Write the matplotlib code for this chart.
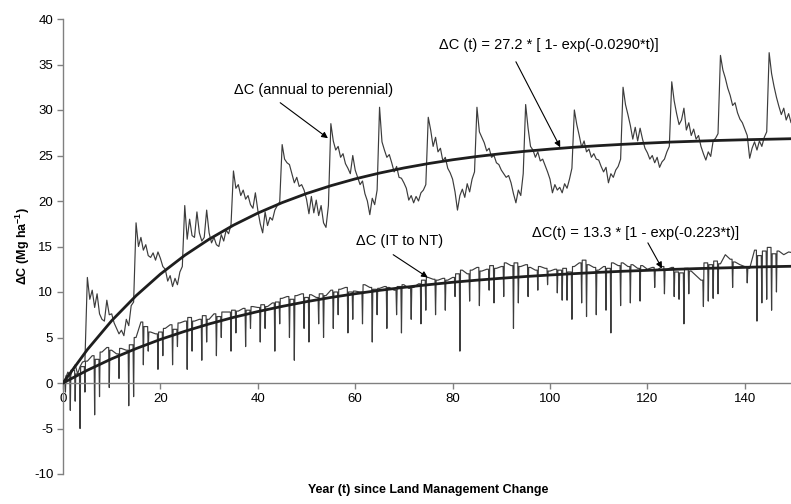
import matplotlib
matplotlib.use("Agg")
import matplotlib.pyplot as plt

plt.rcParams['font.family'] = ['Liberation Sans', 'DejaVu Sans']
plt.rcParams['mathtext.fontset'] = 'custom'
plt.rcParams['mathtext.rm'] = 'Liberation Sans'
plt.rcParams['mathtext.bf'] = 'Liberation Sans:bold'
plt.rcParams['mathtext.default'] = 'bf'
plt.rcParams['axes.unicode_minus'] = False

# ---------------- data ----------------
# Annual to perennial, sampled every half year from t = 0 to 150
a2p_step = 0.5
a2p_vals = [
    0.0, 0.5, 1.2, 0.8, 1.5, 2.0, 1.0, 1.8, 2.3, 2.4,
    11.6, 9.2, 10.2, 8.3, 9.8, 7.6, 7.0, 6.8, 9.1, 7.5, 7.6, 6.6, 6.0, 5.4, 5.8, 5.2, 7.0, 6.3, 8.5, 8.9,
    17.6, 15.0, 16.0, 14.6, 15.2, 14.0, 13.8, 14.3, 13.5, 14.4, 13.7, 12.8, 12.5, 11.2, 11.8, 10.6, 11.5, 10.8, 12.2, 12.8,
    19.5, 15.8, 18.0, 16.2, 16.0, 18.8, 16.5, 15.6, 16.0, 19.0, 16.5, 15.4, 16.0, 15.2, 15.0, 16.3, 15.6, 16.8, 16.4, 17.4,
    23.3, 21.4, 21.8, 20.6, 21.2, 20.2, 20.6, 19.6, 19.2, 20.9, 19.0, 17.5, 16.5, 18.8, 17.3, 18.2, 17.9, 19.0, 19.5, 19.9,
    26.2, 24.6, 24.2, 24.0, 23.0, 22.0, 22.6, 21.6, 21.8, 21.2, 20.2, 18.6, 20.5, 18.7, 20.1, 18.4, 19.5, 17.6, 17.1, 19.5,
    28.5, 26.6, 25.6, 26.0, 24.8, 25.2, 24.1, 23.6, 23.0, 25.0, 23.4, 22.6, 21.8, 22.2, 20.8, 20.0, 18.5, 20.3, 19.6, 21.2,
    30.3, 26.5, 25.6, 24.8, 25.1, 24.2, 23.2, 23.8, 22.6, 22.5, 22.0, 21.4, 20.1, 20.6, 19.8, 20.5, 20.0, 20.9, 21.2, 21.8,
    29.2, 27.8, 26.0, 27.0, 25.4, 25.8, 24.4, 24.8, 23.6, 23.1, 22.4, 21.0, 19.0, 20.6, 21.3, 20.4, 21.9, 21.0, 22.4, 23.2,
    30.3, 27.6, 27.0, 26.4, 25.5, 25.8, 24.8, 25.0, 24.2, 24.0, 23.4, 23.0, 22.6, 22.8, 22.0, 20.8, 19.8, 21.2, 20.6, 23.0,
    30.6, 28.0, 26.0, 25.6, 24.8, 25.4, 24.4, 24.6, 23.9, 23.2, 22.4, 20.9, 21.8, 21.2, 21.5, 20.9, 21.9, 21.4, 22.4, 23.6,
    30.0, 28.4, 27.2, 25.9, 26.6, 25.4, 25.7, 24.8, 25.2, 24.6, 24.5, 23.8, 23.2, 23.7, 22.0, 23.0, 22.6, 23.4, 23.8, 24.6,
    32.5, 30.6, 29.5, 28.3, 26.8, 28.1, 26.6, 28.0, 26.8, 25.8, 25.3, 24.6, 25.0, 24.2, 24.8, 23.7, 24.3, 24.6, 25.4, 26.0,
    33.1, 31.0, 29.6, 28.4, 28.9, 30.2, 27.8, 28.6, 27.2, 27.9, 26.8, 27.2, 26.0, 25.2, 24.5, 25.4, 24.9, 26.6, 26.9, 27.4,
    36.0, 34.4, 33.5, 32.4, 31.6, 30.5, 30.8, 29.7, 29.0, 28.6, 27.9, 27.2, 24.7, 25.8, 26.5, 25.6, 26.6, 26.0, 27.0, 27.6,
    36.3, 34.0, 32.6, 31.4, 30.4, 29.5, 30.2, 28.9, 29.6, 28.6, 29.3,
]

# IT to NT: annual base values (t = 0..150) plus short downward spikes
i2n_base = [
    0.0, 0.8, 1.4, 1.0, 1.8, 2.4, 3.0, 2.6, 3.4, 3.9,
    3.6, 3.2, 3.8, 3.6, 4.2, 5.0, 6.7, 6.2, 5.6, 5.4,
    5.6, 6.0, 6.4, 5.9, 6.6, 6.8, 7.2, 6.8, 7.0, 7.4,
    7.0, 7.6, 7.3, 7.8, 7.8, 8.0, 7.9, 8.2, 8.0, 8.4,
    8.3, 8.6, 8.4, 8.8, 8.9, 9.3, 9.5, 9.2, 9.6, 9.8,
    9.4, 9.7, 9.4, 9.8, 9.6, 10.2, 10.0, 10.3, 10.5, 10.0,
    10.1, 10.0, 10.8, 10.5, 10.3, 10.4, 10.6, 10.5, 10.2, 10.6,
    10.8, 10.4, 10.5, 10.9, 11.3, 11.6, 11.4, 11.3, 11.5, 11.3,
    11.6, 12.0, 12.4, 12.0, 12.4, 12.7, 12.3, 12.5, 12.9, 12.6,
    12.8, 13.2, 12.9, 13.2, 12.8, 13.0, 12.7, 12.4, 12.8, 12.6,
    12.3, 12.5, 12.4, 12.6, 12.2, 12.8, 13.2, 13.5, 13.0, 12.7,
    12.4, 12.8, 12.6, 13.2, 12.9, 13.2, 12.8, 13.0, 12.6, 12.9,
    12.5, 12.7, 12.4, 12.8, 12.5, 12.7, 12.2, 12.1, 12.6, 12.3,
    11.8, 11.3, 13.2, 13.0, 13.4, 13.1, 14.1, 13.6, 13.3, 13.0,
    12.8, 12.6, 14.6, 14.0, 14.5, 14.9, 14.2, 14.5, 14.1, 14.4,
    14.3,
]
i2n_dip_t = [
    0.5, 1.5, 2.5, 3.5, 4.5, 6.5, 7.5, 9.5, 11.5, 13.5, 14.5,
    16.5, 17.5, 19.5, 20.5, 22.5, 23.5, 25.5, 26.5, 28.5, 29.5,
    31.5, 32.5, 34.5, 35.5, 37.5, 38.5, 40.5, 41.5, 43.5, 44.5,
    46.5, 47.5, 49.5, 50.5, 52.5, 53.5, 55.5, 56.5, 58.5, 59.5,
    61.5, 63.5, 64.5, 66.5, 68.5, 69.5, 71.5, 73.5, 74.5, 76.5,
    78.5, 80.5, 81.5, 83.5, 85.5, 87.5, 88.5, 90.5, 92.5, 93.5,
    95.5, 97.5, 99.5, 101.5, 102.5, 103.5, 104.5, 106.5, 107.5, 109.5,
    111.5, 112.5, 114.5, 116.5, 118.5, 121.5, 123.5, 125.5, 126.5, 127.5,
    128.5, 131.5, 132.5, 133.5, 134.5, 137.5, 140.5, 142.5, 143.5, 144.5,
    145.5, 146.5,
]
i2n_dip_v = [
    -1.0, -3.0, -2.0, -5.0, -1.0, -3.5, -1.5, -0.5, 0.5, -2.5, -1.5,
    2.0, 3.5, 1.5, 3.0, 2.0, 4.0, 1.5, 3.5, 2.5, 4.5,
    3.0, 5.0, 3.5, 5.5, 4.0, 6.0, 4.5, 6.0, 3.5, 6.5,
    5.0, 2.5, 6.0, 4.5, 6.5, 5.0, 6.0, 7.5, 5.5, 7.0,
    6.5, 4.5, 7.5, 6.0, 7.5, 5.5, 7.0, 6.5, 8.0, 7.5,
    8.0, 9.5, 3.5, 9.0, 8.5, 10.2, 8.8, 9.5, 6.0, 8.8,
    9.5, 10.2, 10.8, 9.9, 9.1, 9.1, 7.0, 8.8, 7.3, 7.5,
    8.0, 5.5, 8.5, 8.8, 9.0, 10.5, 9.8, 9.5, 9.2, 6.5,
    9.8, 8.4, 9.0, 9.3, 9.8, 10.5, 11.0, 6.8, 8.8, 9.2,
    8.0, 10.0,
]

# Fitted curves, read every 5 years (t = 0..150)
fit_step = 5
a2p_fit = [0.0, 3.67, 6.85, 9.59, 11.97, 14.03, 15.80, 17.34, 18.67, 19.82,
           20.82, 21.68, 22.43, 23.07, 23.63, 24.11, 24.53, 24.89, 25.20, 25.47,
           25.70, 25.91, 26.08, 26.23, 26.36, 26.48, 26.57, 26.66, 26.73, 26.79, 26.85]
i2n_fit = [0.0, 1.40, 2.66, 3.78, 4.79, 5.68, 6.49, 7.21, 7.85, 8.42,
           8.94, 9.40, 9.81, 10.18, 10.51, 10.80, 11.07, 11.30, 11.51, 11.70,
           11.87, 12.02, 12.16, 12.28, 12.38, 12.48, 12.57, 12.64, 12.71, 12.78, 12.83]

x_ticks = [0, 20, 40, 60, 80, 100, 120, 140]
y_ticks = [-10, -5, 0, 5, 10, 15, 20, 25, 30, 35, 40]

# ---------------- build series ----------------
a2p_t = [i * a2p_step for i in range(len(a2p_vals))]

# each spike is drawn as a narrow drop between the neighbouring yearly values
half_w = 0.12
pts = [(float(i), v) for i, v in enumerate(i2n_base)]
for td, vd in zip(i2n_dip_t, i2n_dip_v):
    k = int(td)
    pts.append((td - half_w, i2n_base[k]))
    pts.append((td, vd))
    pts.append((td + half_w, i2n_base[min(k + 1, len(i2n_base) - 1)]))
pts.sort(key=lambda p: p[0])
i2n_t = [p[0] for p in pts]
i2n_v = [p[1] for p in pts]
fit_t = [i * fit_step for i in range(len(a2p_fit))]

# ---------------- figure ----------------
W, H = 791, 504
fig = plt.figure(figsize=(W / 100, H / 100), dpi=100)
x0, x1, ytop, ybot = 63, 793.5, 19, 474
ax = fig.add_axes([x0 / W, 1 - ybot / H, (x1 - x0) / W, (ybot - ytop) / H])
ax.set_xlim(0, 150)
ax.set_ylim(-10, 40)

line_col = '#3c3c3c'
ax.plot(a2p_t, a2p_vals, color=line_col, lw=0.85, zorder=2)
ax.plot(i2n_t, i2n_v, color=line_col, lw=0.85, zorder=2)
ax.plot(fit_t, a2p_fit, color='#1e1e1e', lw=2.0, zorder=3, solid_capstyle='round')
ax.plot(fit_t, i2n_fit, color='#1e1e1e', lw=2.0, zorder=3, solid_capstyle='round')

# axes styling
for s in ['top', 'right']:
    ax.spines[s].set_visible(False)
ax.spines['bottom'].set_position(('data', 0))
for s in ['left', 'bottom']:
    ax.spines[s].set_color('#808080')
    ax.spines[s].set_linewidth(1.0)
ax.set_xticks(x_ticks)
ax.set_yticks(y_ticks)
ax.tick_params(axis='both', direction='out', length=4, width=1.0, color='#808080',
               labelsize=9.5, labelcolor='black')
ax.tick_params(axis='x', pad=3)
ax.tick_params(axis='y', pad=3)
ax.patch.set_alpha(0)

# annotations
afs = 10.5
arrow = dict(arrowstyle='-|>', color='black', lw=0.8, mutation_scale=9, shrinkA=0, shrinkB=0)
ax.text(51.5, 32.2, 'ΔC (annual to perennial)', fontsize=afs, ha='center', va='center')
ax.annotate('', xy=(54.4, 26.9), xytext=(44.6, 30.8), arrowprops=arrow)
ax.text(99.8, 37.1, 'ΔC (t) = 27.2 * [ 1- exp(-0.0290*t)]', fontsize=afs, ha='center', va='center')
ax.annotate('', xy=(102.1, 25.9), xytext=(93.0, 35.3), arrowprops=arrow)
ax.text(69.2, 15.6, 'ΔC (IT to NT)', fontsize=afs, ha='center', va='center')
ax.annotate('', xy=(74.9, 11.6), xytext=(67.8, 14.1), arrowprops=arrow)
ax.text(117.5, 16.5, 'ΔC(t) = 13.3 * [1 - exp(-0.223*t)]', fontsize=afs, ha='center', va='center')
ax.annotate('', xy=(123.0, 12.6), xytext=(120.1, 15.4), arrowprops=arrow)

fig.text(428 / W, 1 - 490 / H, 'Year (t) since Land Management Change', fontsize=9,
         fontweight='bold', ha='center', va='center')
fig.text(23 / W, 1 - 246 / H, 'ΔC (Mg ha$^{-1}$)', fontsize=9, fontweight='bold',
         rotation=90, ha='center', va='center')

fig.savefig('out.png', dpi=100)
